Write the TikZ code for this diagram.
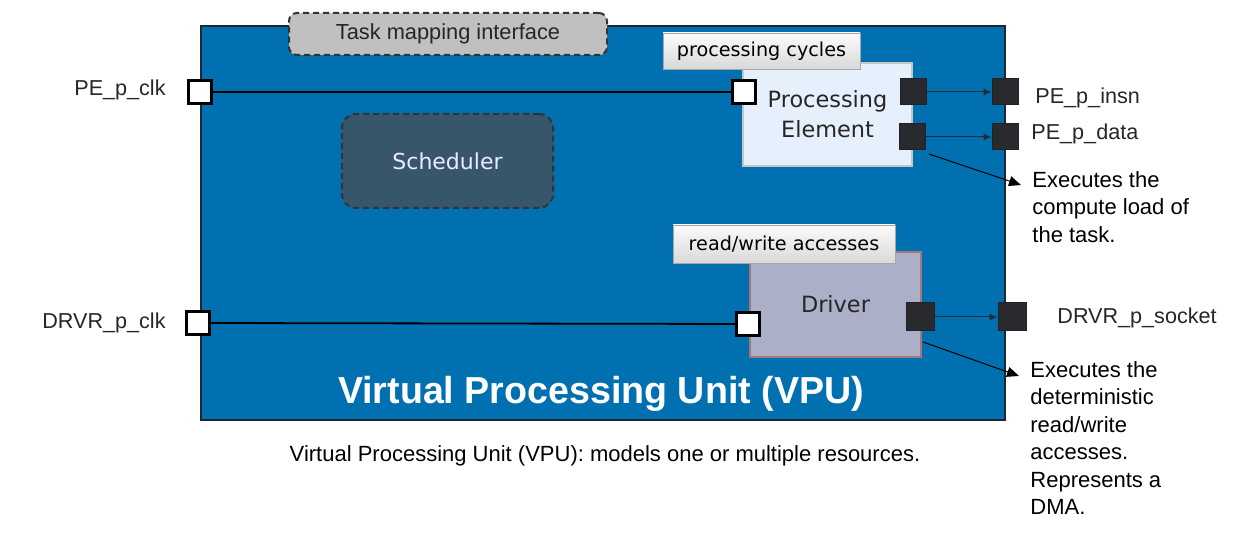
\documentclass[tikz,border=0pt]{standalone}
\usepackage{fontspec}
\setmainfont{Liberation Sans}
\newfontfamily\boxfont{DejaVu Sans}
\usetikzlibrary{arrows.meta}
\definecolor{vpublue}{RGB}{0,112,176}
\definecolor{vpuedge}{RGB}{30,38,48}
\definecolor{schedfill}{RGB}{55,86,106}
\definecolor{pefill}{RGB}{230,240,252}
\definecolor{drvfill}{RGB}{171,175,200}
\definecolor{drvedge}{RGB}{165,120,120}
\definecolor{portdark}{RGB}{40,42,46}
\definecolor{tmifill}{RGB}{192,192,192}
\tikzset{
  whiteport/.style={draw=black, fill=white, line width=1.2pt, minimum size=11.5pt, inner sep=0pt},
  darkport/.style={draw=portdark!80!black, fill=portdark, line width=0.5pt, minimum size=13pt, inner sep=0pt},
  tagbox/.style={draw=gray!70, top color=gray!3, bottom color=gray!30, inner sep=0pt, font=\fontsize{9.6}{11}\selectfont\boxfont},
  portlabel/.style={font=\fontsize{10.8}{12}\selectfont, text=black!85, inner sep=0pt},
  sigline/.style={draw=black, line width=0.9pt},
  outarrow/.style={draw=portdark, line width=0.5pt, -{Latex[length=4pt,width=3.5pt]}},
  annarrow/.style={draw=black, line width=0.5pt, -{Triangle[length=6pt,width=5pt]}},
  anntext/.style={font=\fontsize{11}{13.75}\selectfont, align=left, inner sep=0pt, anchor=north west}
}
\begin{document}
\begin{tikzpicture}[x=0.5pt,y=-0.5pt]
\useasboundingbox (0,0) rectangle (1260,560);
% main VPU box
\node[draw=vpuedge, fill=vpublue, line width=1pt, minimum width=402pt, minimum height=197pt, inner sep=0pt] (vpu) at (603,223) {};
% task mapping interface
\node[draw=black!80, dashed, dash pattern=on 3pt off 2pt, line width=1pt, fill=tmifill, rounded corners=4pt, minimum width=159pt, minimum height=21pt, inner sep=0pt, font=\fontsize{10.9}{12}\selectfont, text=black!85] (tmi) at (448,34) {Task mapping interface};
% scheduler
\node[draw=black!80, dashed, dash pattern=on 3pt off 2pt, line width=1pt, fill=schedfill, rounded corners=7pt, minimum width=105.5pt, minimum height=47pt, inner sep=0pt, font=\fontsize{11}{12}\selectfont\boxfont, text=white!92!blue] (sched) at (447.5,161) {Scheduler};
% processing element
\node[draw=gray!45, fill=pefill, line width=1pt, minimum width=84.5pt, minimum height=51.5pt, inner sep=0pt, align=center, font=\fontsize{11.2}{15}\selectfont\boxfont, text=black!85] (pe) at (827.5,114.5) {Processing\\Element};
\node[tagbox, minimum width=98.5pt, minimum height=18pt] (pcyc) at (761.5,51) {processing cycles};
% driver
\node[draw=drvedge, fill=drvfill, line width=1pt, minimum width=85.5pt, minimum height=52.5pt, inner sep=0pt, font=\fontsize{11.2}{12}\selectfont\boxfont, text=black!85] (drv) at (835.5,304.5) {Driver};
\node[tagbox, minimum width=111pt, minimum height=19pt] (rw) at (784,244) {read/write accesses};
% ports
\node[whiteport] (peclk) at (200,92) {};
\node[whiteport] (pein) at (744,92) {};
\node[darkport] (peo1) at (913,92) {};
\node[darkport] (peo2) at (912,137) {};
\node[darkport] (insn) at (1005,92) {};
\node[darkport] (data) at (1005,137) {};
\node[whiteport] (drvclk) at (198,323) {};
\node[whiteport] (drvin) at (748,324) {};
\node[darkport, minimum size=14pt] (drvo) at (920,317) {};
\node[darkport, minimum size=14pt] (sock) at (1012,317) {};
% port labels
\node[portlabel, anchor=east] (lpeclk) at (166,90) {PE\_p\_clk};
\node[portlabel, anchor=east] (ldrvclk) at (166,323) {DRVR\_p\_clk};
\node[portlabel, anchor=west] (linsn) at (1035,98) {PE\_p\_insn};
\node[portlabel, anchor=west] (ldata) at (1031,134) {PE\_p\_data};
\node[portlabel, anchor=west] (lsock) at (1057,318) {DRVR\_p\_socket};
% signal lines
\draw[sigline] (peclk) -- (pein);
\draw[sigline] (drvclk) -- (drvin);
\draw[outarrow] (peo1) -- (insn);
\draw[outarrow] (peo2) -- (data);
\draw[outarrow] (drvo) -- (sock);
% title & caption
\node[font=\fontsize{18.8}{21}\selectfont\bfseries, text=white, inner sep=0pt] (title) at (601,394) {Virtual Processing Unit (VPU)};
\node[font=\fontsize{11}{13}\selectfont, text=black, inner sep=0pt] (cap) at (605,456) {Virtual Processing Unit (VPU): models one or multiple resources.};
% annotations
\node[anntext] (ann1) at (1032,171) {Executes the\\compute load of\\the task.};
\node[anntext] (ann2) at (1030,361) {Executes the\\deterministic\\read/write\\accesses.\\Represents a\\DMA.};
\coordinate (s1) at (929,154);
\coordinate (t1) at (1021,185);
\coordinate (s2) at (923,342);
\coordinate (t2) at (1019,376);
\draw[annarrow] (s1) -- (t1);
\draw[annarrow] (s2) -- (t2);
\end{tikzpicture}
\end{document}
